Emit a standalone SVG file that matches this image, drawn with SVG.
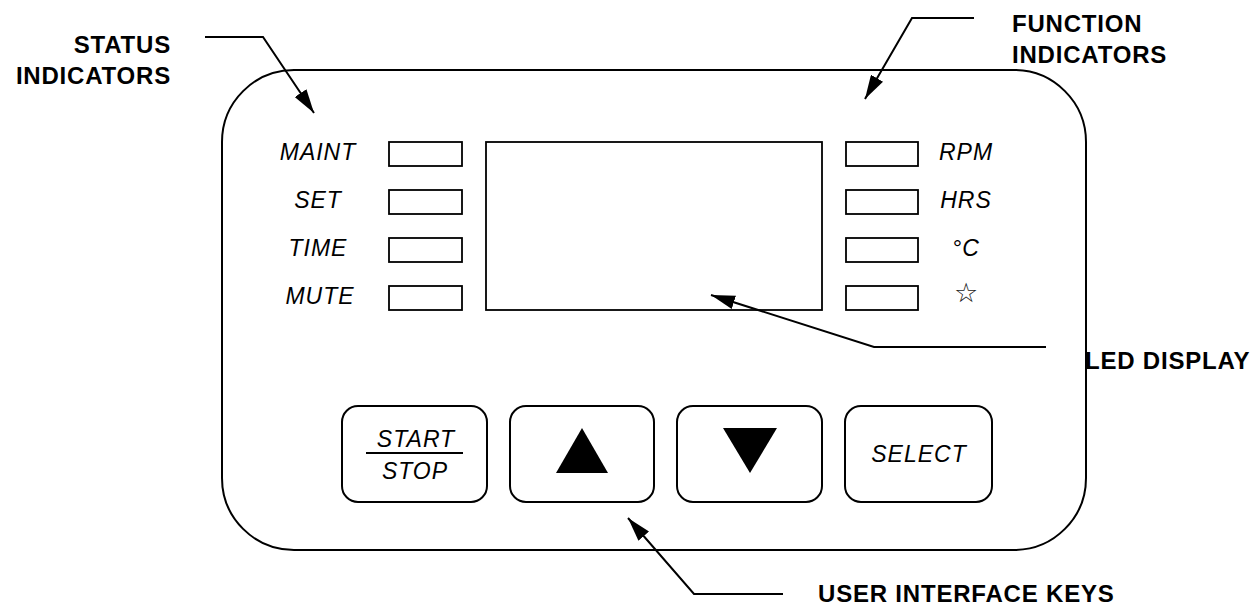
<svg xmlns="http://www.w3.org/2000/svg" width="1257" height="610" viewBox="0 0 1257 610">
<style>
.bold{font-family:"Liberation Sans",Arial,sans-serif;font-weight:bold;font-size:24px;letter-spacing:0.8px;fill:#000}
.lbl{font-family:"Liberation Sans",Arial,sans-serif;font-style:italic;font-size:23px;letter-spacing:1px;fill:#000;text-anchor:middle}
.ind{fill:#fff;stroke:#000;stroke-width:1.8}
.key{fill:#fff;stroke:#000;stroke-width:2}
.lead{fill:none;stroke:#000;stroke-width:2}
</style>
<defs>
<marker id="ah" markerUnits="userSpaceOnUse" markerWidth="26" markerHeight="14" refX="24" refY="7" orient="auto">
<path d="M0,0 L24,7 L0,14 Z" fill="#000"/>
</marker>
</defs>
<rect width="1257" height="610" fill="#fff"/>
<g id="panel">
<rect x="222" y="70" width="864" height="480" rx="72" ry="72" fill="none" stroke="#000" stroke-width="2"/>
</g>
<g id="display">
<rect x="486" y="142" width="336" height="168" class="ind"/>
</g>
<g id="status-leds">
<rect x="389" y="142" width="73" height="24" class="ind"/>
<rect x="389" y="190" width="73" height="24" class="ind"/>
<rect x="389" y="238" width="73" height="24" class="ind"/>
<rect x="389" y="286" width="73" height="24" class="ind"/>
<text class="lbl" x="318" y="160">MAINT</text>
<text class="lbl" x="318" y="208">SET</text>
<text class="lbl" x="318" y="256">TIME</text>
<text class="lbl" x="320" y="304">MUTE</text>
</g>
<g id="function-leds">
<rect x="846" y="142" width="72" height="24" class="ind"/>
<rect x="846" y="190" width="72" height="24" class="ind"/>
<rect x="846" y="238" width="72" height="24" class="ind"/>
<rect x="846" y="286" width="72" height="24" class="ind"/>
<text class="lbl" x="966" y="160">RPM</text>
<text class="lbl" x="966" y="208">HRS</text>
<text class="lbl" x="966" y="256">°C</text>
<text x="966" y="302" style="font-family:'DejaVu Sans',sans-serif;font-size:27px;fill:#222;text-anchor:middle">☆</text>
</g>
<g id="key-startstop">
<rect x="342" y="406" width="145" height="96" rx="16" class="key"/>
<text class="lbl" x="416" y="447">START</text>
<line x1="366" y1="453" x2="463" y2="453" stroke="#000" stroke-width="2"/>
<text class="lbl" x="415" y="479">STOP</text>
</g>
<g id="key-up">
<rect x="510" y="406" width="144" height="96" rx="16" class="key"/>
<polygon points="556,473 608,473 582,428" fill="#000"/>
</g>
<g id="key-down">
<rect x="677" y="406" width="145" height="96" rx="16" class="key"/>
<polygon points="723,428 777,428 750,473" fill="#000"/>
</g>
<g id="key-select">
<rect x="845" y="406" width="147" height="96" rx="16" class="key"/>
<text class="lbl" x="919" y="462">SELECT</text>
</g>
<g id="callouts">
<text class="bold" x="171" y="53" text-anchor="end">STATUS</text>
<text class="bold" x="171" y="84" text-anchor="end">INDICATORS</text>
<text class="bold" x="1012" y="32">FUNCTION</text>
<text class="bold" x="1012" y="63">INDICATORS</text>
<text class="bold" x="1085" y="369">LED DISPLAY</text>
<text class="bold" x="818" y="602">USER INTERFACE KEYS</text>
</g>
<g id="connectors">
<polyline class="lead" points="205,37 263,37 314,113" marker-end="url(#ah)"/>
<polyline class="lead" points="974,18 912,18 865,99" marker-end="url(#ah)"/>
<polyline class="lead" points="1046,347 874,347 711,295" marker-end="url(#ah)"/>
<polyline class="lead" points="783,594 694,594 628,518" marker-end="url(#ah)"/>
</g>
</svg>
